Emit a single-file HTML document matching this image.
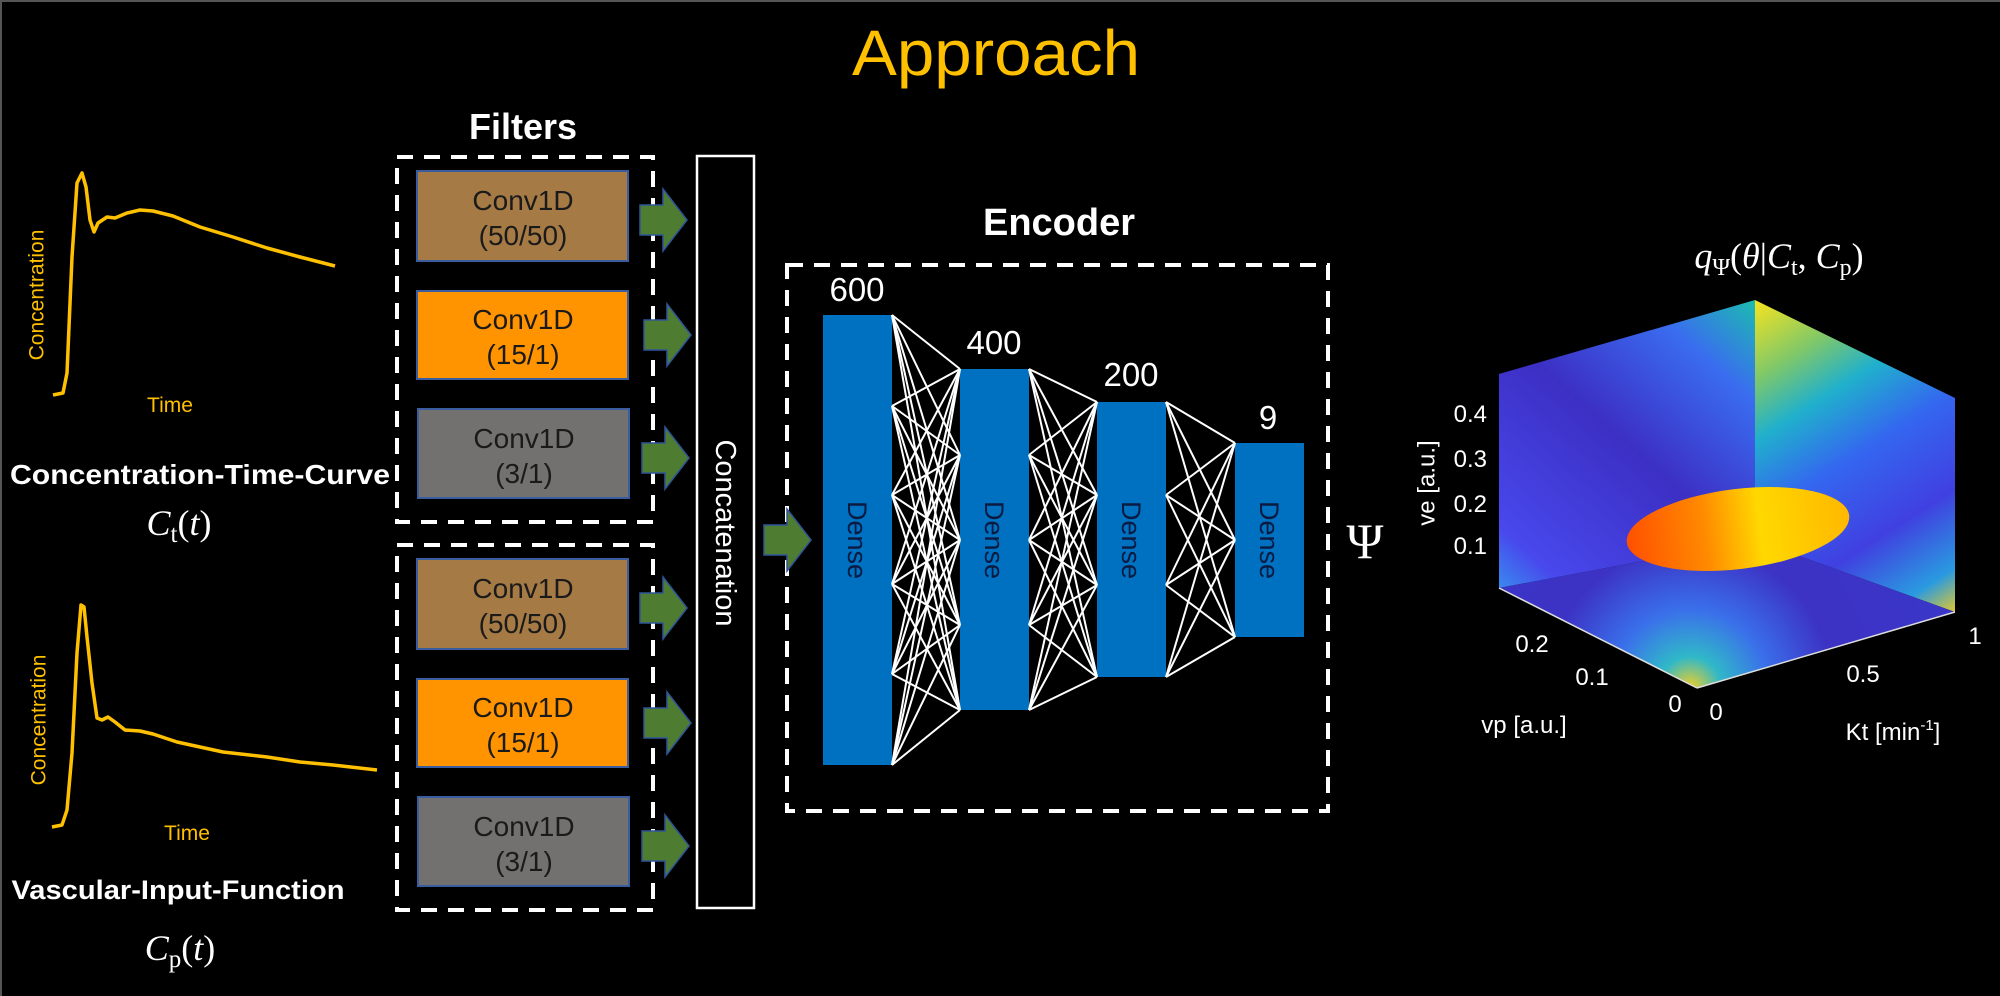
<!DOCTYPE html>
<html><head><meta charset="utf-8"><style>
html,body{margin:0;padding:0;background:#000;width:2000px;height:996px;overflow:hidden}
svg{display:block}
</style></head><body>
<svg id="s" width="2000" height="996" viewBox="0 0 2000 996" xmlns="http://www.w3.org/2000/svg" font-family="Liberation Sans, Arial, sans-serif">
<defs>
<linearGradient id="lw" gradientUnits="userSpaceOnUse" x1="1499" y1="588" x2="1755" y2="300">
<stop offset="0" stop-color="#3a8af0"/><stop offset="0.12" stop-color="#4848ec"/><stop offset="0.5" stop-color="#3c2fc4"/><stop offset="0.8" stop-color="#3a6cf0"/><stop offset="1" stop-color="#1cbcb0"/></linearGradient>
<linearGradient id="rw" gradientUnits="userSpaceOnUse" x1="1755" y1="300" x2="1955" y2="612">
<stop offset="0" stop-color="#f8e41e"/><stop offset="0.18" stop-color="#80c868"/><stop offset="0.32" stop-color="#20b0cc"/><stop offset="0.5" stop-color="#3466f0"/><stop offset="0.72" stop-color="#4040e0"/><stop offset="0.9" stop-color="#2a9ae0"/><stop offset="1" stop-color="#e0c830"/></linearGradient>
<radialGradient id="fl" gradientUnits="userSpaceOnUse" cx="1690" cy="688" r="260">
<stop offset="0" stop-color="#f2d024"/><stop offset="0.12" stop-color="#30b8c8"/><stop offset="0.3" stop-color="#3a70ea"/><stop offset="0.55" stop-color="#3c32c4"/><stop offset="1" stop-color="#3a36c8"/></radialGradient>
<linearGradient id="el" x1="0" y1="0" x2="1" y2="0">
<stop offset="0" stop-color="#ff5000"/><stop offset="0.35" stop-color="#ff8a00"/><stop offset="0.6" stop-color="#ffd800"/><stop offset="1" stop-color="#ffb800"/></linearGradient>
</defs>
<rect x="0" y="0" width="2000" height="996" fill="#000"/>
<rect x="0" y="0" width="2000" height="2" fill="#555"/>
<rect x="0" y="0" width="2" height="996" fill="#555"/>

<text x="996" y="75" font-size="64" fill="#ffc000" text-anchor="middle" textLength="288" lengthAdjust="spacingAndGlyphs">Approach</text>

<polyline fill="none" stroke="#ffc000" stroke-width="3.5" stroke-linejoin="round" points="53,395 63,393 67,373 72,257 77,183 82,173 86,187 90,220 94,232 98,223 107,217 115,218 127,213 140,210 153,211 173,216 200,227 233,237 267,248 300,257 335,266"/>
<text transform="rotate(-90 37 295)" x="37" y="295" font-size="21" fill="#ffc000" text-anchor="middle" dominant-baseline="central">Concentration</text>
<text x="170" y="412" font-size="21" fill="#ffc000" text-anchor="middle">Time</text>
<text x="200" y="484" font-size="28" font-weight="bold" fill="#fff" text-anchor="middle" textLength="380" lengthAdjust="spacingAndGlyphs">Concentration-Time-Curve</text>
<text x="179" y="535" font-size="36" fill="#fff" text-anchor="middle" font-family="Liberation Serif, serif"><tspan font-style="italic">C</tspan><tspan font-size="25" dy="7">t</tspan><tspan dy="-7">(</tspan><tspan font-style="italic">t</tspan>)</text>

<polyline fill="none" stroke="#ffc000" stroke-width="3.5" stroke-linejoin="round" points="52,827 62,825 67,810 72,753 77,653 81,605 84,607 87,637 92,683 97,718 102,720 108,717 115,722 125,730 140,731 153,734 177,742 200,747 223,752 267,757 300,762 333,765 377,770"/>
<text transform="rotate(-90 39 720)" x="39" y="720" font-size="21" fill="#ffc000" text-anchor="middle" dominant-baseline="central">Concentration</text>
<text x="187" y="840" font-size="21" fill="#ffc000" text-anchor="middle">Time</text>
<text x="178" y="899" font-size="27" font-weight="bold" fill="#fff" text-anchor="middle" textLength="333" lengthAdjust="spacingAndGlyphs">Vascular-Input-Function</text>
<text x="180" y="960" font-size="36" fill="#fff" text-anchor="middle" font-family="Liberation Serif, serif"><tspan font-style="italic">C</tspan><tspan font-size="25" dy="7">p</tspan><tspan dy="-7">(</tspan><tspan font-style="italic">t</tspan>)</text>

<text x="523" y="139" font-size="36" font-weight="bold" fill="#fff" text-anchor="middle">Filters</text>
<g fill="none" stroke="#fff" stroke-width="4" stroke-dasharray="16 11">
<rect x="397" y="157" width="256" height="365"/>
<rect x="397" y="545" width="256" height="365"/>
<rect x="787" y="265" width="541" height="546"/>
</g>
<g stroke="#3a5da0" stroke-width="2">
<rect x="417" y="171" width="211" height="90" fill="#a57a45"/>
<rect x="417" y="291" width="211" height="88" fill="#ff9300"/>
<rect x="418" y="409" width="211" height="89" fill="#737070"/>
<rect x="417" y="559" width="211" height="90" fill="#a57a45"/>
<rect x="417" y="679" width="211" height="88" fill="#ff9300"/>
<rect x="418" y="797" width="211" height="89" fill="#737070"/>
</g>
<g font-size="28" text-anchor="middle" fill="#1a1a1a">
<text x="523" y="210">Conv1D</text><text x="523" y="245">(50/50)</text>
<text x="523" y="329">Conv1D</text><text x="523" y="364">(15/1)</text>
<text x="524" y="448">Conv1D</text><text x="524" y="483">(3/1)</text>
<text x="523" y="598">Conv1D</text><text x="523" y="633">(50/50)</text>
<text x="523" y="717">Conv1D</text><text x="523" y="752">(15/1)</text>
<text x="524" y="836">Conv1D</text><text x="524" y="871">(3/1)</text>
</g>
<g fill="#4e7d32" stroke="#2f5597" stroke-width="1.5" id="arrows"></g>

<rect x="697" y="156" width="57" height="752" fill="#000" stroke="#fff" stroke-width="2.5"/>
<text transform="rotate(90 725 533)" x="725" y="533" font-size="29" fill="#fff" text-anchor="middle" dominant-baseline="central">Concatenation</text>

<text x="1059" y="235" font-size="38" font-weight="bold" fill="#fff" text-anchor="middle">Encoder</text>
<g fill="#0070c0">
<rect x="823" y="315" width="69" height="450"/>
<rect x="960" y="369" width="69" height="341"/>
<rect x="1097" y="402" width="69" height="275"/>
<rect x="1235" y="443" width="69" height="194"/>
</g>
<g id="net" stroke="#fff" stroke-width="2"></g>
<g font-size="33" fill="#fff" text-anchor="middle">
<text x="857" y="301">600</text><text x="994" y="354">400</text><text x="1131" y="386">200</text><text x="1268" y="429">9</text>
</g>
<g font-size="27" fill="#0a1a40" text-anchor="middle">
<text transform="rotate(90 857 540)" x="857" y="540" dominant-baseline="central">Dense</text>
<text transform="rotate(90 994 540)" x="994" y="540" dominant-baseline="central">Dense</text>
<text transform="rotate(90 1131 540)" x="1131" y="540" dominant-baseline="central">Dense</text>
<text transform="rotate(90 1269 540)" x="1269" y="540" dominant-baseline="central">Dense</text>
</g>
<text x="1365" y="558" font-size="50" fill="#fff" text-anchor="middle" font-family="Liberation Serif, serif">Ψ</text>

<text x="1779" y="268" font-size="36" fill="#fff" text-anchor="middle" font-family="Liberation Serif, serif"><tspan font-style="italic">q</tspan><tspan font-size="24" dy="7">Ψ</tspan><tspan dy="-7">(</tspan><tspan font-style="italic">θ</tspan>|<tspan font-style="italic">C</tspan><tspan font-size="24" dy="7">t</tspan><tspan dy="-7">, </tspan><tspan font-style="italic">C</tspan><tspan font-size="24" dy="7">p</tspan><tspan dy="-7">)</tspan></text>
<polygon points="1499,374 1755,300 1755,540 1499,588" fill="url(#lw)"/>
<polygon points="1755,300 1955,398 1955,612 1755,540" fill="url(#rw)"/>
<polygon points="1499,588 1755,540 1955,612 1697,688" fill="url(#fl)"/>
<line x1="1499" y1="588" x2="1697" y2="688" stroke="#ddd" stroke-width="1.5"/>
<line x1="1697" y1="688" x2="1955" y2="612" stroke="#ddd" stroke-width="1.5"/>
<ellipse cx="1738" cy="529" rx="112" ry="40" transform="rotate(-7 1738 529)" fill="url(#el)"/>
<g font-size="24" fill="#fff">
<g text-anchor="end"><text x="1487" y="422">0.4</text><text x="1487" y="467">0.3</text><text x="1487" y="512">0.2</text><text x="1487" y="554">0.1</text></g>
<text transform="rotate(-90 1427 483)" x="1427" y="483" text-anchor="middle" dominant-baseline="central">ve [a.u.]</text>
<g text-anchor="middle"><text x="1532" y="652">0.2</text><text x="1592" y="685">0.1</text><text x="1675" y="712">0</text><text x="1716" y="720">0</text><text x="1863" y="682">0.5</text><text x="1975" y="644">1</text>
<text x="1524" y="733">vp [a.u.]</text>
<text x="1893" y="740">Kt [min<tspan font-size="15" dy="-10">-1</tspan><tspan dy="10">]</tspan></text></g>
</g>
</svg>
<script>
(function(){
var NS="http://www.w3.org/2000/svg";
var net=document.getElementById("net");
var L=[[892,[315,406,495,584,674,765]],[960,[369,455,540,625,710]],[1029,[369,455,540,625,710]],[1097,[402,495,585,677]],[1166,[402,495,585,677]],[1235,[443,540,637]]];
function conn(a,b){a[1].forEach(function(y1){b[1].forEach(function(y2){var l=document.createElementNS(NS,"line");l.setAttribute("x1",a[0]);l.setAttribute("y1",y1);l.setAttribute("x2",b[0]);l.setAttribute("y2",y2);net.appendChild(l);});});}
conn(L[0],L[1]);conn(L[2],L[3]);conn(L[4],L[5]);
var ar=document.getElementById("arrows");
function arrow(x,y){var p=document.createElementNS(NS,"polygon");
var pts=[[x,y-15],[x+23,y-15],[x+23,y-31],[x+47,y],[x+23,y+31],[x+23,y+15],[x,y+15]];
p.setAttribute("points",pts.map(function(q){return q[0]+","+q[1];}).join(" "));ar.appendChild(p);}
[[640,220],[644,335],[642,458],[640,608],[644,723],[642,846],[764,540]].forEach(function(a){arrow(a[0],a[1]);});
})();
</script>
</body></html>
